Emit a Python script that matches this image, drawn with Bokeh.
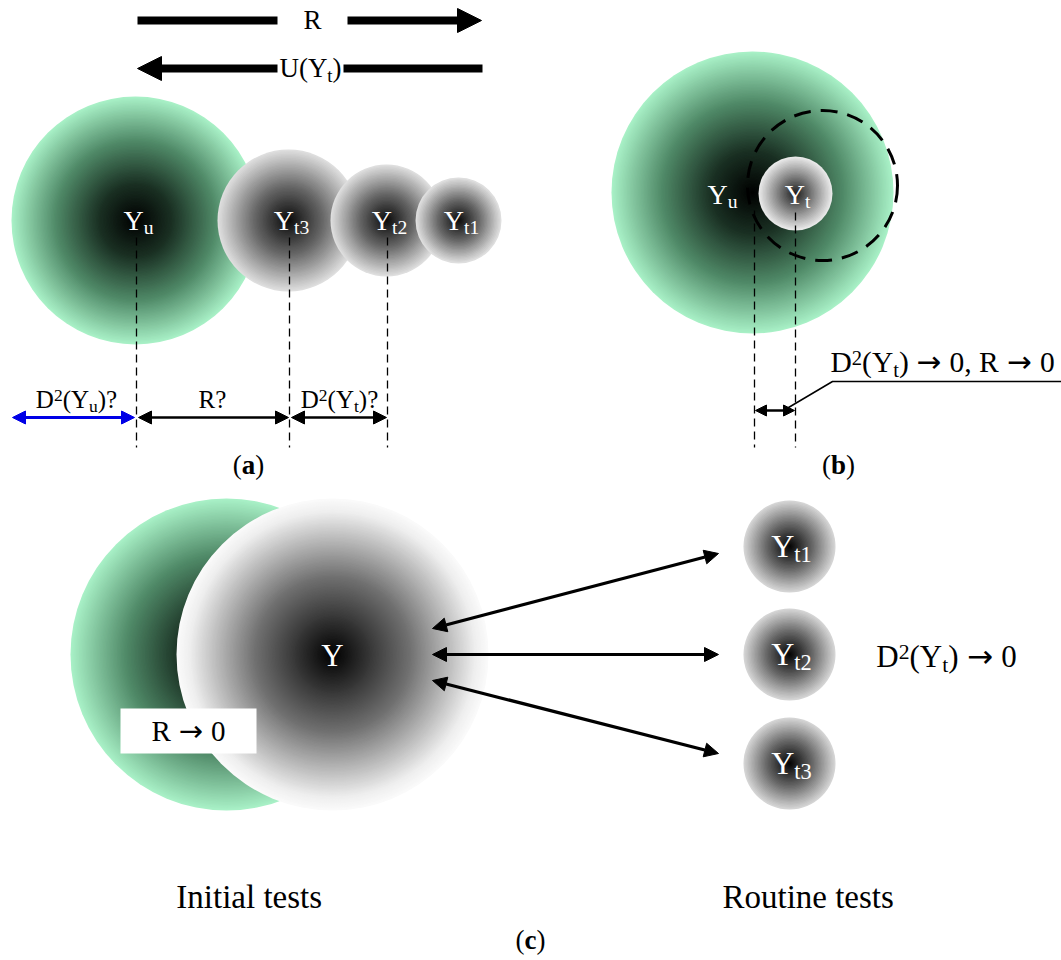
import numpy as np
from bokeh.plotting import figure
from bokeh.models import Range1d, Arrow, NormalHead, ColumnDataSource
from bokeh.core.properties import value
from bokeh.embed import file_html
from bokeh.resources import INLINE

# ---------------- diagram content ----------------
# panel (a): spheres of uncertainty
a_names = ["u", "t3", "t2", "t1"]
a_cx = [135, 288, 386, 458]
a_cy = [220, 220, 220, 220]
a_r = [124, 71, 56, 43]
a_ramp = ["green", "grayA", "grayA", "grayA"]

# panel (b)
b_names = ["u", "t"]
b_cx = [752, 795]
b_cy = [192, 193]
b_r = [141, 37]
b_ramp = ["green", "grayB"]
b_dash_circle = (822, 185, 75)

# panel (c)
c_names = ["", "", "t1", "t2", "t3"]
c_cx = [226, 332, 789, 789, 789]
c_cy = [654, 654, 546, 654, 763]
c_r = [156, 156, 46, 46, 46]
c_ramp = ["green", "grayC", "grayS", "grayS", "grayS"]

# gradient colour stops (t = 0 centre .. 1 edge)
RAMPS = {
    "green": [(0.0, (0, 0, 0)), (0.3, (26, 48, 35)), (0.65, (80, 138, 104)), (1.0, (168, 240, 198))],
    "grayA": [(0.0, (8, 8, 8)), (0.5, (105, 105, 105)), (1.0, (222, 222, 222))],
    "grayB": [(0.0, (25, 25, 25)), (0.5, (130, 130, 130)), (1.0, (232, 232, 232))],
    "grayC": [(0.0, (0, 0, 0)), (0.5, (112, 112, 112)), (0.92, (238, 238, 238)), (1.0, (250, 250, 250))],
    "grayS": [(0.0, (0, 0, 0)), (0.5, (100, 100, 100)), (1.0, (212, 212, 212))],
}

def ramp(name, t):
    st = RAMPS[name]
    for (t0, c0), (t1, c1) in zip(st[:-1], st[1:]):
        if t <= t1:
            f = (t - t0) / (t1 - t0) if t1 > t0 else 0
            return "#%02x%02x%02x" % tuple(int(round(a + (b - a) * f)) for a, b in zip(c0, c1))
    return "#%02x%02x%02x" % st[-1][1]

# ---------------- figure ----------------
p = figure(width=1061, height=960, x_range=Range1d(0, 1061), y_range=Range1d(960, 0),
           output_backend="svg", toolbar_location=None, x_axis_type=None, y_axis_type=None,
           min_border=0)
p.outline_line_color = None
p.background_fill_color = "white"
p.border_fill_color = "white"

# gradient rings
R = dict(x=[], y=[], r=[], c=[])
def sphere(cx, cy, r, rname):
    n = max(20, int(r / 1.4))
    for k in range(n, 0, -1):
        t = k / n
        R["x"].append(cx); R["y"].append(cy); R["r"].append(r * t); R["c"].append(ramp(rname, t))

for cx, cy, r, rn in zip(a_cx, a_cy, a_r, a_ramp):
    sphere(cx, cy, r, rn)
for cx, cy, r, rn in zip(b_cx, b_cy, b_r, b_ramp):
    sphere(cx, cy, r, rn)
for cx, cy, r, rn in zip(c_cx, c_cy, c_r, c_ramp):
    sphere(cx, cy, r, rn)
p.circle(x="x", y="y", radius="r", fill_color="c", line_color=None, source=ColumnDataSource(R))

# dashed circle (b)
p.circle(x=[b_dash_circle[0]], y=[b_dash_circle[1]], radius=[b_dash_circle[2]],
         fill_color=None, line_color="black", line_width=3, line_dash="17 10")

# dashed guide lines
guide_x = [136, 289, 387, 754, 795]
guide_y0 = [237, 237, 237, 210, 212]
guide_y1 = [447, 447, 447, 447, 447]
p.segment(x0=guide_x, y0=guide_y0, x1=guide_x, y1=guide_y1, line_color="black",
          line_width=1.3, line_dash="8 5")

# leader line (b)
p.line(x=[783, 832, 1061], y=[410, 381, 381], line_color="black", line_width=1.5)

# white box (c)
p.quad(left=[120], right=[256], top=[708], bottom=[753], fill_color="white", line_color=None)

# ---------------- arrows ----------------
def arrow(x0, y0, x1, y1, lw, hs, start=True, end=True, color="black"):
    kw = {}
    if start:
        kw["start"] = NormalHead(size=hs, fill_color=color, line_color=color, line_width=1)
    if end:
        kw["end"] = NormalHead(size=hs, fill_color=color, line_color=color, line_width=1)
    else:
        kw["end"] = None
    p.add_layout(Arrow(x_start=x0, y_start=y0, x_end=x1, y_end=y1, line_width=lw,
                       line_color=color, **kw))

# top thick arrows
arrow(137, 20, 277, 20, 8, 24, start=False, end=False)
arrow(347, 20, 481, 20, 8, 24, start=False, end=True)
arrow(277, 68, 137, 68, 8, 24, start=False, end=True)
arrow(343, 68, 482, 68, 8, 24, start=False, end=False)
# panel (a) measurement arrows
arrow(12, 417, 134, 417, 3, 13, color="#0000e6")
arrow(138, 417, 288, 417, 2.5, 13)
arrow(291, 417, 386, 417, 2.5, 13)
# panel (b)
arrow(755, 410, 794, 410, 2.5, 11)
# panel (c)
c_arrow_y0 = [628, 654, 680]
c_arrow_y1 = [553, 654, 753]
for y0, y1 in zip(c_arrow_y0, c_arrow_y1):
    arrow(432, y0, 718, y1, 3.2, 14)

# ---------------- texts ----------------
WID = {'D': .722, 'Y': .722, 'U': .722, 'R': .667, '(': .333, ')': .333, '?': .444, 'u': .5,
       't': .278, '1': .5, '2': .5, '3': .5, '0': .5, ',': .25, ' ': .27, '→': .838,
       'a': .5, 'b': .556, 'c': .444, 'I': .333, 'n': .5, 'i': .278, 'l': .278, 's': .389,
       'e': .444, 'o': .5}
SERIF = "Liberation Serif"
T = dict(x=[], y=[], text=[], size=[], color=[], style=[], font=[])

def rich(parts, x, ymid, size, align="center", color="black"):
    segs = []
    for s, m in parts:
        fs = size * 0.7 if m in ("sub", "sup") else size
        segs.append((s, m, fs, sum(WID.get(ch, .5) for ch in s) * fs))
    total = sum(s[3] for s in segs)
    x0 = x - total / 2 if align == "center" else (x if align == "left" else x - total)
    base = ymid + 0.33 * size
    for s, m, fs, w in segs:
        yb = base + (0.17 * size if m == "sub" else (-0.25 * size if m == "sup" else 0))
        lead = len(s) - len(s.lstrip(" "))
        core = s.strip(" ")
        if core:
            T["x"].append(x0 + lead * WID[' '] * fs); T["y"].append(yb - 0.34 * fs)
            T["text"].append(core)
            T["size"].append("%.1fpx" % fs); T["color"].append(color)
            T["style"].append("bold" if m == "b" else "normal")
            T["font"].append("DejaVu Sans" if m == "arrow" else SERIF)
        x0 += w

ARW = ("→", "arrow")
# top arrows
rich([("R", "n")], 312, 20, 27)
rich([("U(Y", "n"), ("t", "sub"), (")", "n")], 310, 68, 27)
# circle labels
for nm, cx, cy in zip(a_names, a_cx, a_cy):
    rich([("Y", "n"), (nm, "sub")], cx + 3, cy, 28, color="white")
rich([("Y", "n"), ("u", "sub")], 722, 194, 28, color="white")
rich([("Y", "n"), ("t", "sub")], 797, 194, 28, color="white")
rich([("Y", "n")], 332, 655, 31, color="white")
for nm, cx, cy in zip(c_names[2:], c_cx[2:], c_cy[2:]):
    rich([("Y", "n"), (nm, "sub")], cx + 2, cy, 32, color="white")
# panel (a) measurement labels
rich([("D", "n"), ("2", "sup"), ("(Y", "n"), ("u", "sub"), (")?", "n")], 76, 399, 25)
rich([("R?", "n")], 212, 399, 25)
rich([("D", "n"), ("2", "sup"), ("(Y", "n"), ("t", "sub"), (")?", "n")], 339, 399, 25)
# panel (b) statement
rich([("D", "n"), ("2", "sup"), ("(Y", "n"), ("t", "sub"), (") ", "n"), ARW, (" 0, R ", "n"), ARW, (" 0", "n")],
     830, 362, 29.5, align="left")
# panel (c)
rich([("R ", "n"), ARW, (" 0", "n")], 188, 731, 29)
rich([("D", "n"), ("2", "sup"), ("(Y", "n"), ("t", "sub"), (") ", "n"), ARW, (" 0", "n")], 946, 656, 31)
rich([("Initial tests", "n")], 250, 897, 33)
rich([("Routine tests", "n")], 808, 897, 33)
# panel letters
rich([("(", "n"), ("a", "b"), (")", "n")], 248, 465, 27)
rich([("(", "n"), ("b", "b"), (")", "n")], 838, 465, 27)
rich([("(", "n"), ("c", "b"), (")", "n")], 530, 940, 27)

p.text(x="x", y="y", text="text", text_font_size="size", text_color="color",
       text_font_style="style", text_align="left", text_baseline="middle",
       text_font="font", source=ColumnDataSource(T))

open("out.html", "w").write(file_html(p, INLINE))
